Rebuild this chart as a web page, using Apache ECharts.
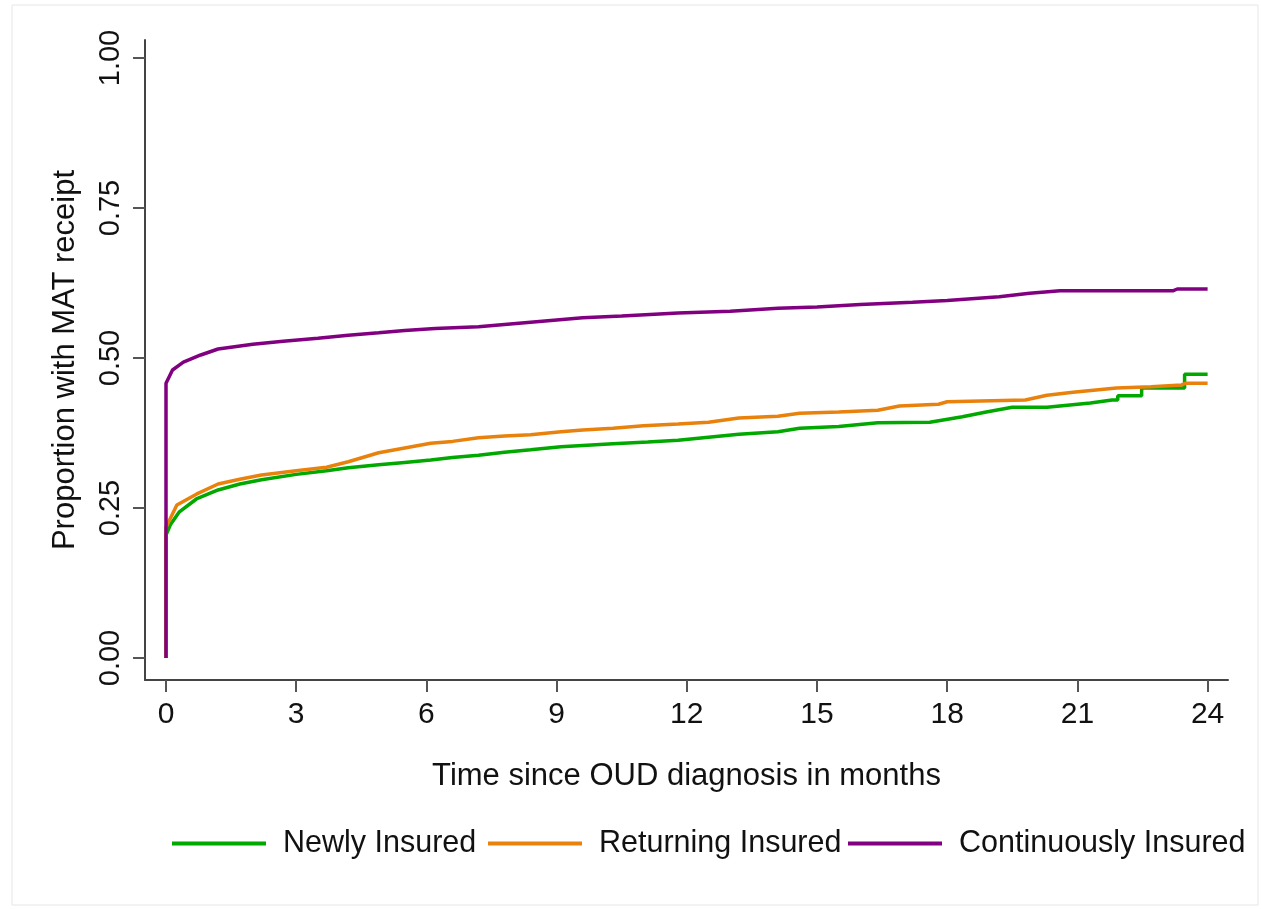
<!DOCTYPE html>
<html>
<head>
<meta charset="utf-8">
<script src="https://cdn.jsdelivr.net/npm/echarts@6/dist/echarts.min.js"></script>
<style>html,body{margin:0;padding:0;background:#fff;}#c{width:1262px;height:909px;}</style>
</head>
<body>
<div id="c"></div>
<script>
// ---- data (months, proportion) ----
const seriesNames = ['Newly Insured', 'Returning Insured', 'Continuously Insured'];
const xTicks = [0, 3, 6, 9, 12, 15, 18, 21, 24];
const yTicks = [0, 0.25, 0.5, 0.75, 1];

const newlyInsured = [
  [0,0],[0,0.205],[0.1,0.222],[0.3,0.243],[0.7,0.265],[1.2,0.28],[1.7,0.29],[2.2,0.297],[3.0,0.306],[3.7,0.312],[4.2,0.317],
  [4.9,0.322],[5.5,0.326],[6.1,0.33],[6.6,0.334],[7.2,0.338],[7.8,0.343],[8.4,0.347],[9.1,0.352],
  [9.8,0.355],[10.3,0.357],[11.1,0.36],[11.8,0.363],[12.5,0.368],[13.2,0.373],[14.1,0.377],
  [14.6,0.383],[15.5,0.386],[16.4,0.392],[17.6,0.393],[18.35,0.402],[18.9,0.41],[19.5,0.418],
  [20.3,0.418],[21.3,0.425],[21.8,0.43],[21.93,0.43],[21.93,0.437],[22.48,0.437],[22.48,0.45],
  [23.47,0.45],[23.47,0.473],[24,0.473]
];
const returningInsured = [
  [0,0],[0,0.218],[0.25,0.255],[0.7,0.273],[1.2,0.29],[1.7,0.298],[2.2,0.305],[3.0,0.312],[3.7,0.318],[4.2,0.327],
  [4.9,0.342],[5.5,0.35],[6.1,0.358],[6.6,0.361],[7.2,0.367],[7.8,0.37],[8.4,0.372],[9.1,0.377],[9.6,0.38],
  [10.3,0.383],[11.0,0.387],[11.8,0.39],[12.5,0.393],[13.2,0.40],[14.1,0.403],[14.6,0.408],
  [15.5,0.41],[16.4,0.413],[16.9,0.42],[17.8,0.423],[18.0,0.427],[19.8,0.43],[20.3,0.438],
  [20.9,0.443],[21.9,0.45],[22.7,0.452],[23.4,0.455],[23.5,0.458],[24,0.458]
];
const continuouslyInsured = [
  [0,0],[0,0.458],[0.15,0.48],[0.4,0.493],[0.8,0.505],[1.2,0.515],[2.0,0.523],[2.7,0.528],
  [3.5,0.533],[4.2,0.538],[4.9,0.542],[5.5,0.546],[6.2,0.549],[7.2,0.552],[8.0,0.557],[8.8,0.562],
  [9.6,0.567],[10.5,0.57],[11.8,0.575],[13.0,0.578],[14.1,0.583],[15.0,0.585],[16.0,0.589],
  [17.2,0.593],[18.0,0.596],[18.8,0.6],[19.2,0.602],[19.9,0.608],[20.6,0.612],[23.2,0.612],[23.3,0.615],[24,0.615]
];
const colors = ['#00a800', '#e8820c', '#800080'];

const FONT = "'Liberation Sans', Arial, sans-serif";
const chart = echarts.init(document.getElementById('c'), null, {renderer: 'canvas'});

function legendAt(name, left) {
  return {
    data: [name], left: left, top: 828, orient: 'horizontal',
    icon: 'rect', itemWidth: 94, itemHeight: 4, padding: 0,
    textStyle: {fontFamily: FONT, fontSize: 30.5, color: '#111', padding: [0, 0, 0, 12]}
  };
}

chart.setOption({
  backgroundColor: '#fff',
  animation: false,
  color: colors,
  grid: {left: 145, right: 34, top: 40, bottom: 229, containLabel: false},
  legend: [legendAt(seriesNames[0], 172), legendAt(seriesNames[1], 488), legendAt(seriesNames[2], 848)],
  xAxis: {
    type: 'value', min: -0.484, max: 24.47,
    name: 'Time since OUD diagnosis in months', nameLocation: 'middle', nameGap: 81,
    nameTextStyle: {fontFamily: FONT, fontSize: 31, color: '#111'},
    axisLine: {show: true, onZero: false, lineStyle: {color: '#444', width: 2}},
    axisTick: {show: true, customValues: xTicks, length: 12, lineStyle: {color: '#555', width: 2}},
    axisLabel: {customValues: xTicks, fontFamily: FONT, fontSize: 30, color: '#111', margin: 20},
    splitLine: {show: false}
  },
  yAxis: {
    type: 'value', min: -0.0367, max: 1.03,
    name: 'Proportion with MAT receipt', nameLocation: 'middle', nameGap: 64,
    nameTextStyle: {fontFamily: FONT, fontSize: 31, color: '#111'},
    axisLine: {show: true, onZero: false, lineStyle: {color: '#444', width: 2}},
    axisTick: {show: true, customValues: yTicks, length: 12, lineStyle: {color: '#555', width: 2}},
    axisLabel: {customValues: yTicks, rotate: 90, fontFamily: FONT, fontSize: 29, color: '#111', margin: 20,
      formatter: v => v.toFixed(2)},
    splitLine: {show: false}
  },
  series: [
    {name: seriesNames[0], type: 'line', data: newlyInsured, showSymbol: false, symbol: 'none', lineStyle: {width: 3.5}},
    {name: seriesNames[1], type: 'line', data: returningInsured, showSymbol: false, symbol: 'none', lineStyle: {width: 3.5}},
    {name: seriesNames[2], type: 'line', data: continuouslyInsured, showSymbol: false, symbol: 'none', lineStyle: {width: 3.5}}
  ],
  graphic: [{type: 'rect', shape: {x: 12, y: 5, width: 1246, height: 900}, style: {fill: 'none', stroke: '#e6e6e6', lineWidth: 1}, silent: true, z: -1}]
});
</script>
</body>
</html>
